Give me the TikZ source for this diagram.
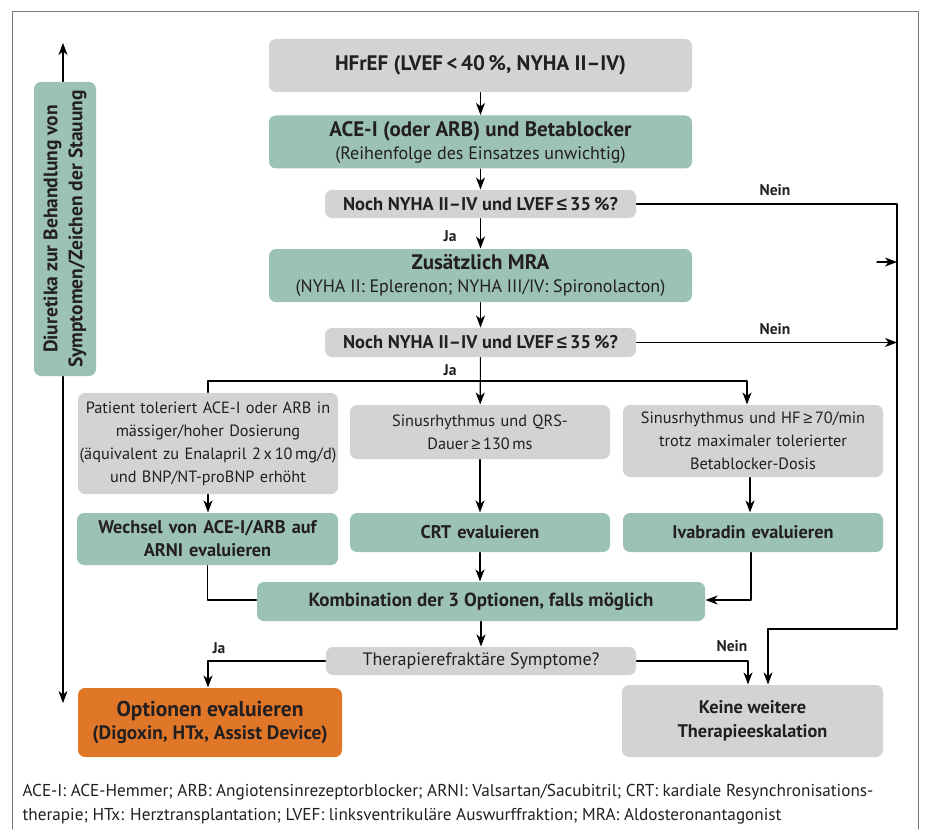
\documentclass[tikz,border=0pt]{standalone}
\usepackage{fontspec}
\setmainfont{PT Sans}
\newfontfamily\symf{Liberation Sans}
\usetikzlibrary{arrows.meta}

\definecolor{boxgray}{HTML}{D1D3D4}
\definecolor{boxgreen}{HTML}{9BC2B2}
\definecolor{boxorange}{HTML}{E07628}
\definecolor{txt}{HTML}{231F20}
\definecolor{framegray}{HTML}{77787B}

\newcommand{\fs}[2]{\fontsize{#1}{#2}\selectfont}
\newcommand{\kleinergl}{{\symf ≤}}
\newcommand{\groessergl}{{\symf ≥}}

\begin{document}
\begin{tikzpicture}[x=1pt, y=-1pt, line cap=round, line join=round, line width=1.1pt,
    >={Stealth[length=12pt, width=9pt, inset=3.5pt]}, font=\fs{16.3}{23}]
  \tikzset{
    box/.style={rounded corners=7pt, inner sep=0pt, align=center, text=txt},
    grau/.style={box, fill=boxgray},
    gruen/.style={box, fill=boxgreen, font=\fs{18.3}{23}\bfseries},
    frage/.style={grau, minimum width=311pt, minimum height=28pt},
    breit/.style={minimum width=423pt, minimum height=53pt},
    spalte/.style={minimum width=260pt, text width=258pt},
    lbl/.style={font=\fs{15.5}{17}\bfseries, text=txt, inner sep=0pt}
  }
  \useasboundingbox (0,0) rectangle (925,829);
  \draw[framegray, line width=1pt] (12,829) -- (12,12) -- (918,12) -- (918,829);

  % main column
  \node[grau, breit, font=\fs{21}{25}\bfseries] (hfref) at (480.5,65.5) {HFrEF (LVEF\,<\,40\,\%, NYHA II–IV)};
  \node[gruen, breit] (acei) at (480.5,142) {{\fs{21}{24}\bfseries ACE-I (oder ARB) und Betablocker}\\{\fs{18}{20}\mdseries (Reihenfolge des Einsatzes unwichtig)}};
  \node[frage, font=\fs{18.4}{22}\bfseries] (frage1) at (480.5,204) {Noch NYHA II–IV und LVEF\,\kleinergl\,35\,\%?};
  \node[gruen, breit] (mra) at (480.5,275.5) {{\fs{21}{24}\bfseries Zusätzlich MRA}\\{\fs{18}{20}\mdseries (NYHA II: Eplerenon; NYHA III/IV: Spironolacton)}};
  \node[frage, minimum height=29pt, font=\fs{18.4}{22}\bfseries] (frage2) at (480.5,342.5) {Noch NYHA II–IV und LVEF\,\kleinergl\,35\,\%?};

  % three options
  \node[grau, spalte, minimum height=101pt] (patient) at (208,443.5) {Patient toleriert ACE-I oder ARB in\\mässiger/hoher Dosierung\\(äquivalent zu Enalapril 2\,x\,10\,mg/d)\\und BNP/NT-proBNP erhöht};
  \node[grau, spalte, minimum height=54pt] (qrs) at (480,432) {Sinusrhythmus und QRS-\\Dauer\,\groessergl\,130\,ms};
  \node[grau, spalte, minimum height=72pt] (hf) at (753,441) {Sinusrhythmus und HF\,\groessergl\,70/min\\trotz maximaler tolerierter\\Betablocker-Dosis};
  \node[gruen, spalte, minimum width=261pt, minimum height=52pt] (arni) at (207.5,539) {Wechsel von ACE-I/ARB auf\\ARNI evaluieren};
  \node[gruen, spalte, minimum height=39pt] (crt) at (480,532.5) {CRT evaluieren};
  \node[gruen, spalte, minimum height=39pt] (ivab) at (753,532.5) {Ivabradin evaluieren};
  \node[gruen, minimum width=448pt, minimum height=39pt, font=\fs{19}{23}\bfseries] (komb) at (481,601.5) {Kombination der 3 Optionen, falls möglich};
  \node[frage, minimum width=310pt, font=\fs{18}{22}] (frage3) at (481,661) {Therapierefraktäre Symptome?};

  % end points
  \node[box, fill=boxorange, minimum width=264pt, minimum height=69pt] (optionen) at (210,722.5) {{\fs{21.5}{23}\bfseries Optionen evaluieren}\\{\fs{19.4}{23}\bfseries (Digoxin, HTx, Assist Device)}};
  \node[grau, minimum width=261pt, minimum height=72pt, font=\fs{18.3}{24.5}\bfseries] (keine) at (752.5,721) {Keine weitere\\Therapieeskalation};

  % diuretics
  \node[gruen, rotate=90, minimum width=294pt, minimum height=62pt, font=\fs{19.5}{25}\bfseries] (diur) at (65,229) {Diuretika zur Behandlung von\\Symptomen/Zeichen der Stauung};
  \coordinate (dtop) at (63,43);
  \coordinate (dbot) at (63,703);
  \draw[->] (diur.east -| dtop) -- (dtop);
  \draw[->] (diur.west -| dbot) -- (dbot);

  % right rail
  \coordinate (r1) at (897,204);
  \coordinate (r2) at (897,629);
  \coordinate (stub) at (877,262);
  \coordinate (ast) at (480,381);

  \draw[->] (hfref) -- (acei);
  \draw[->] (acei) -- (frage1);
  \draw[->] (frage1) -- (mra);
  \draw[->] (mra) -- (frage2);
  \draw[->] (frage1.east) -- (r1) -- (r2) -| ([xshift=15.5pt]keine.north);
  \draw[->] (stub) -- (stub -| r1);
  \draw[->] (frage2.east) -- (frage2.east -| r1);
  \draw[->] (frage2) -- (qrs);
  \draw[->] (patient.north) |- (ast) -| ([xshift=-6pt]hf.north);
  \draw[->] (patient.south) -- (patient.south |- arni.north);
  \draw[->] (qrs) -- (crt);
  \draw[->] ([xshift=-3pt]hf.south) -- ([xshift=-3pt]ivab.north);
  \draw (arni.south) |- ([yshift=1.5pt]komb.west);
  \draw[->] (crt) -- (komb.north -| crt);
  \draw[->] ([xshift=-2pt]ivab.south) |- ([yshift=1.5pt]komb.east);
  \draw[->] (komb.south -| frage3) -- (frage3);
  \draw[->] (frage3.west) -| ([xshift=-2pt]optionen.north);
  \draw[->] (frage3.east) -| ([xshift=-4.5pt]keine.north);

  % labels
  \node[lbl] (ja1) at (450,236) {Ja};
  \node[lbl] (nein1) at (775,190) {Nein};
  \node[lbl] (nein2) at (775,329) {Nein};
  \node[lbl] (ja2) at (450,370) {Ja};
  \node[lbl] (ja3) at (219,648) {Ja};
  \node[lbl] (nein3) at (732,646) {Nein};

  % footnote
  \node[anchor=base west, align=left, inner sep=0pt, text=txt, font=\fs{17.2}{24}] (fn) at (22,820) {ACE-I: ACE-Hemmer; ARB: Angiotensinrezeptorblocker; ARNI: Valsartan/Sacubitril; CRT: kardiale Resynchronisations-\\therapie; HTx: Herztransplantation; LVEF: linksventrikuläre Auswurffraktion; MRA: Aldosteronantagonist};
\end{tikzpicture}
\end{document}
